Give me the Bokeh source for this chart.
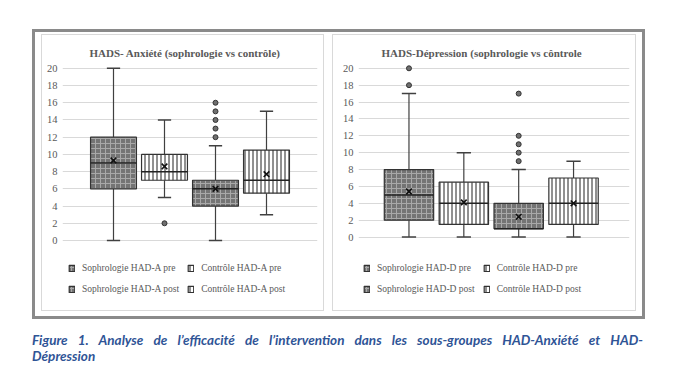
from bokeh.plotting import figure
from bokeh.models import Range1d, FixedTicker, Legend, LegendItem, ColumnDataSource, Div
from bokeh.layouts import row, column
from bokeh.embed import file_html
from bokeh.resources import INLINE

# ---------------- data ----------------
y_ticks = [0, 2, 4, 6, 8, 10, 12, 14, 16, 18, 20]

a_title = "HADS- Anxiété (sophrologie vs contrôle)"
a_cats = ["Sophrologie HAD-A pre", "Contrôle HAD-A pre", "Sophrologie HAD-A post", "Contrôle HAD-A post"]
a_low = [0, 5, 0, 3]
a_q1 = [6, 7, 4, 5.5]
a_med = [9, 8, 6, 7]
a_q3 = [12, 10, 7, 10.5]
a_high = [20, 14, 11, 15]
a_mean = [9.3, 8.6, 6.0, 7.7]
a_out_idx = [1, 2, 2, 2, 2, 2]
a_out_val = [2, 12, 13, 14, 15, 16]

d_title = "HADS-Dépression (sophrologie vs côntrole"
d_cats = ["Sophrologie HAD-D pre", "Contrôle HAD-D pre", "Sophrologie HAD-D post", "Contrôle HAD-D post"]
d_low = [0, 0, 0, 0]
d_q1 = [2, 1.5, 1, 1.5]
d_med = [5, 4, 1, 4]
d_q3 = [8, 6.5, 4, 7]
d_high = [17, 10, 8, 9]
d_mean = [5.4, 4.1, 2.4, 4.0]
d_out_idx = [0, 0, 2, 2, 2, 2, 2]
d_out_val = [18, 20, 9, 10, 11, 12, 17]

caption1 = "Figure 1. Analyse de l’efficacité de l’intervention dans les sous-groupes HAD-Anxiété et HAD-"
caption2 = "Dépression"

# ---------------- styles ----------------
box_fill = ["#747474", "white", "#747474", "white"]
box_hatch = ["cross", "vertical_line", "cross", "vertical_line"]
box_hatch_color = ["#a8a8a8", "#222222", "#a8a8a8", "#222222"]
box_hatch_scale = [5, 4, 5, 4]
legend_order = [0, 2, 1, 3]  # legend fills column by column
TXT = "#595959"
SERIF = "Liberation Serif"


def make_panel(title, cats, low, q1, med, q3, high, mean, out_idx, out_val,
               width, height, xr, yr, borders, title_offset, leg_loc):
    bl, br, bt, bb = borders
    p = figure(width=width, height=height, x_range=Range1d(*xr), y_range=Range1d(*yr),
               output_backend="svg", toolbar_location=None, x_axis_location=None,
               min_border_left=bl, min_border_right=br, min_border_top=bt, min_border_bottom=bb,
               background_fill_color="white", border_fill_color="white", outline_line_color=None)
    p.title.text = title
    p.title.align = "left"
    p.title.text_font = SERIF
    p.title.text_font_style = "bold"
    p.title.text_font_size = "11px"
    p.title.text_color = TXT
    p.title.offset = title_offset

    p.yaxis.ticker = FixedTicker(ticks=y_ticks)
    p.yaxis.axis_line_color = None
    p.yaxis.major_tick_line_color = None
    p.yaxis.minor_tick_line_color = None
    p.yaxis.major_tick_out = 0
    p.yaxis.major_tick_in = 0
    p.yaxis.major_label_standoff = 5
    p.yaxis.major_label_text_font = SERIF
    p.yaxis.major_label_text_font_size = "10.5px"
    p.yaxis.major_label_text_color = TXT
    p.xgrid.grid_line_color = None
    p.ygrid.ticker = FixedTicker(ticks=y_ticks)
    p.ygrid.grid_line_color = "#d9d9d9"

    xs = list(range(len(cats)))
    src = ColumnDataSource(dict(x=xs, low=low, q1=q1, med=med, q3=q3, high=high, mean=mean,
                                fill=box_fill, hatch=box_hatch, hcol=box_hatch_color,
                                hscale=box_hatch_scale,
                                xl=[x - 0.45 for x in xs], xr=[x + 0.45 for x in xs],
                                cl=[x - 0.13 for x in xs], cr=[x + 0.13 for x in xs]))
    # whiskers
    p.segment(x0="x", y0="low", x1="x", y1="q1", source=src, line_color="#404040", line_width=1.2)
    p.segment(x0="x", y0="q3", x1="x", y1="high", source=src, line_color="#404040", line_width=1.2)
    p.segment(x0="cl", y0="low", x1="cr", y1="low", source=src, line_color="#404040", line_width=1.5)
    p.segment(x0="cl", y0="high", x1="cr", y1="high", source=src, line_color="#404040", line_width=1.5)
    # boxes
    boxes = p.vbar(x="x", width=0.9, bottom="q1", top="q3", source=src,
                   fill_color="fill", hatch_pattern="hatch", hatch_color="hcol",
                   hatch_scale="hscale", hatch_weight=1,
                   line_color="#333333", line_width=1.2)
    p.segment(x0="xl", y0="med", x1="xr", y1="med", source=src, line_color="#222222", line_width=1.5)
    p.scatter(x="x", y="mean", source=src, marker="x", size=8, line_color="#111111", line_width=1.6)
    # outliers
    p.scatter(x=out_idx, y=out_val, marker="circle", size=5, fill_color="#6f6f6f",
              line_color="#333333", line_width=1)

    items = [LegendItem(label=cats[i], renderers=[boxes], index=i) for i in legend_order]
    leg = Legend(items=items, ncols=2, location=leg_loc, border_line_color=None,
                 background_fill_alpha=0, padding=6, margin=0, spacing=8,
                 glyph_width=7, glyph_height=8, label_height=13, label_standoff=7,
                 label_text_font=SERIF, label_text_font_size="9.5px", label_text_color=TXT)
    p.add_layout(leg)
    return p


p1 = make_panel(a_title, a_cats, a_low, a_q1, a_med, a_q3, a_high, a_mean, a_out_idx, a_out_val,
                281, 275, (-1.0, 4.0), (-7.55, 20.56), (20, 6, 28, 5), 27, (6, 10))
p2 = make_panel(d_title, d_cats, d_low, d_q1, d_med, d_q3, d_high, d_mean, d_out_idx, d_out_val,
                302, 275, (-0.92, 4.02), (-8.11, 20.57), (25, 6, 28, 5), 23, (5, 10))
for p in (p1, p2):
    p.styles = {"outline": "1px solid #d9d9d9"}

frame = row(p1, p2, spacing=10, margin=(29, 0, 0, 32),
            styles={"border": "3px solid #8a8a8a", "padding": "3px 7px 6px 7px",
                    "background-color": "white"})

cap = Div(text='<div style="width:611px;text-align:justify;text-align-last:justify;">' + caption1 +
               '</div><div>' + caption2 + '</div>',
          width=611, margin=(13, 0, 0, 32),
          styles={"font-family": "Lato", "font-weight": "bold", "font-style": "italic",
                  "font-size": "13.5px", "color": "#2F5496", "line-height": "16px"})

layout = column(frame, cap)
open("out.html", "w").write(file_html(layout, INLINE))
